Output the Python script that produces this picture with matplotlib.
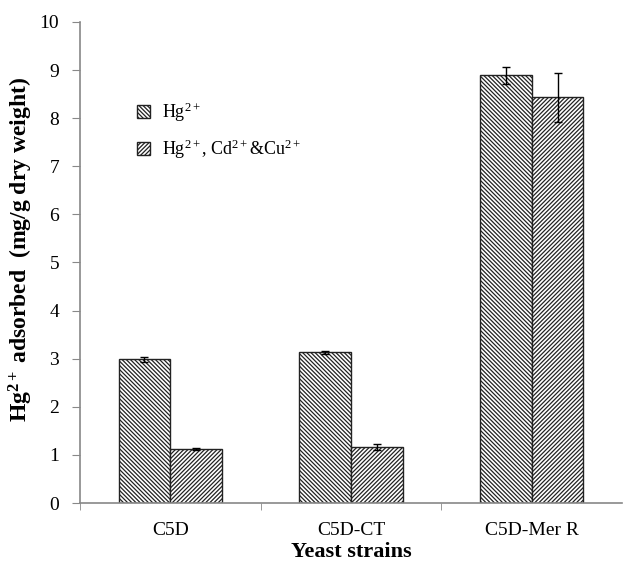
import numpy as np
import matplotlib
matplotlib.use("Agg")
import matplotlib.pyplot as plt

# --- data ---
strains = ["C5D", "C5D-CT", "C5D-Mer R"]
hg_only = [2.99, 3.13, 8.89]
hg_only_err = [0.05, 0.03, 0.17]
hg_mix = [1.13, 1.16, 8.43]
hg_mix_err = [0.02, 0.06, 0.51]
series_labels = [r"Hg$^{2+}$", r"Hg$^{2+}$, Cd$^{2+}$&Cu$^{2+}$"]

plt.rcParams["font.family"] = ["Liberation Serif", "DejaVu Serif"]
plt.rcParams["mathtext.fontset"] = "custom"
plt.rcParams["mathtext.rm"] = "Liberation Serif"
plt.rcParams["mathtext.bf"] = "Liberation Serif:bold"
plt.rcParams["mathtext.it"] = "Liberation Serif:italic"
plt.rcParams["hatch.linewidth"] = 0.9
plt.rcParams["hatch.color"] = "#333333"

fig = plt.figure(figsize=(6.23, 5.68), dpi=100)
ax = fig.add_axes([0.1284, 0.1144, 0.87, 0.847])

x = np.arange(len(strains))
w = 0.286
ax.bar(x - w / 2, hg_only, w, color="white", edgecolor="#222222", linewidth=1.0,
       hatch="\\" * 8, label=series_labels[0])
ax.bar(x + w / 2, hg_mix, w, color="white", edgecolor="#222222", linewidth=1.0,
       hatch="/" * 8, label=series_labels[1])
ax.errorbar(x - w / 2, hg_only, yerr=hg_only_err, fmt="none", ecolor="black",
            elinewidth=1.0, capsize=3, capthick=1.0)
ax.errorbar(x + w / 2, hg_mix, yerr=hg_mix_err, fmt="none", ecolor="black",
            elinewidth=1.0, capsize=3, capthick=1.0)

ax.set_xlim(-0.5, 2.5)
ax.set_ylim(0, 10)
ax.set_yticks(range(0, 11))
ax.set_xticks(x)
ax.set_xticklabels(strains)
ax.set_xticks([-0.5, 0.5, 1.5], minor=True)
ax.tick_params(axis="x", which="major", length=0, labelsize=14, pad=14)
ax.tick_params(axis="x", which="minor", length=5, color="#888888")
ax.tick_params(axis="y", length=6, color="#888888", labelsize=14, pad=9)

for s in ["top", "right"]:
    ax.spines[s].set_visible(False)
for s in ["left", "bottom"]:
    ax.spines[s].set_color("#888888")
    ax.spines[s].set_linewidth(1.2)

ax.set_xlabel("Yeast strains", fontsize=16, fontweight="bold", labelpad=2)
ax.set_ylabel(r"Hg$\mathbf{^{2+}}$ adsorbed  (mg/g dry weight)", fontsize=17,
              fontweight="bold", va="center")
ax.yaxis.set_label_coords(-0.109, 0.528)

ax.legend(loc="upper left", bbox_to_anchor=(0.075, 0.87), frameon=False, fontsize=13,
          handlelength=0.7, handleheight=0.7, labelspacing=0.75, handletextpad=0.7)

plt.savefig("out.png", dpi=100)
